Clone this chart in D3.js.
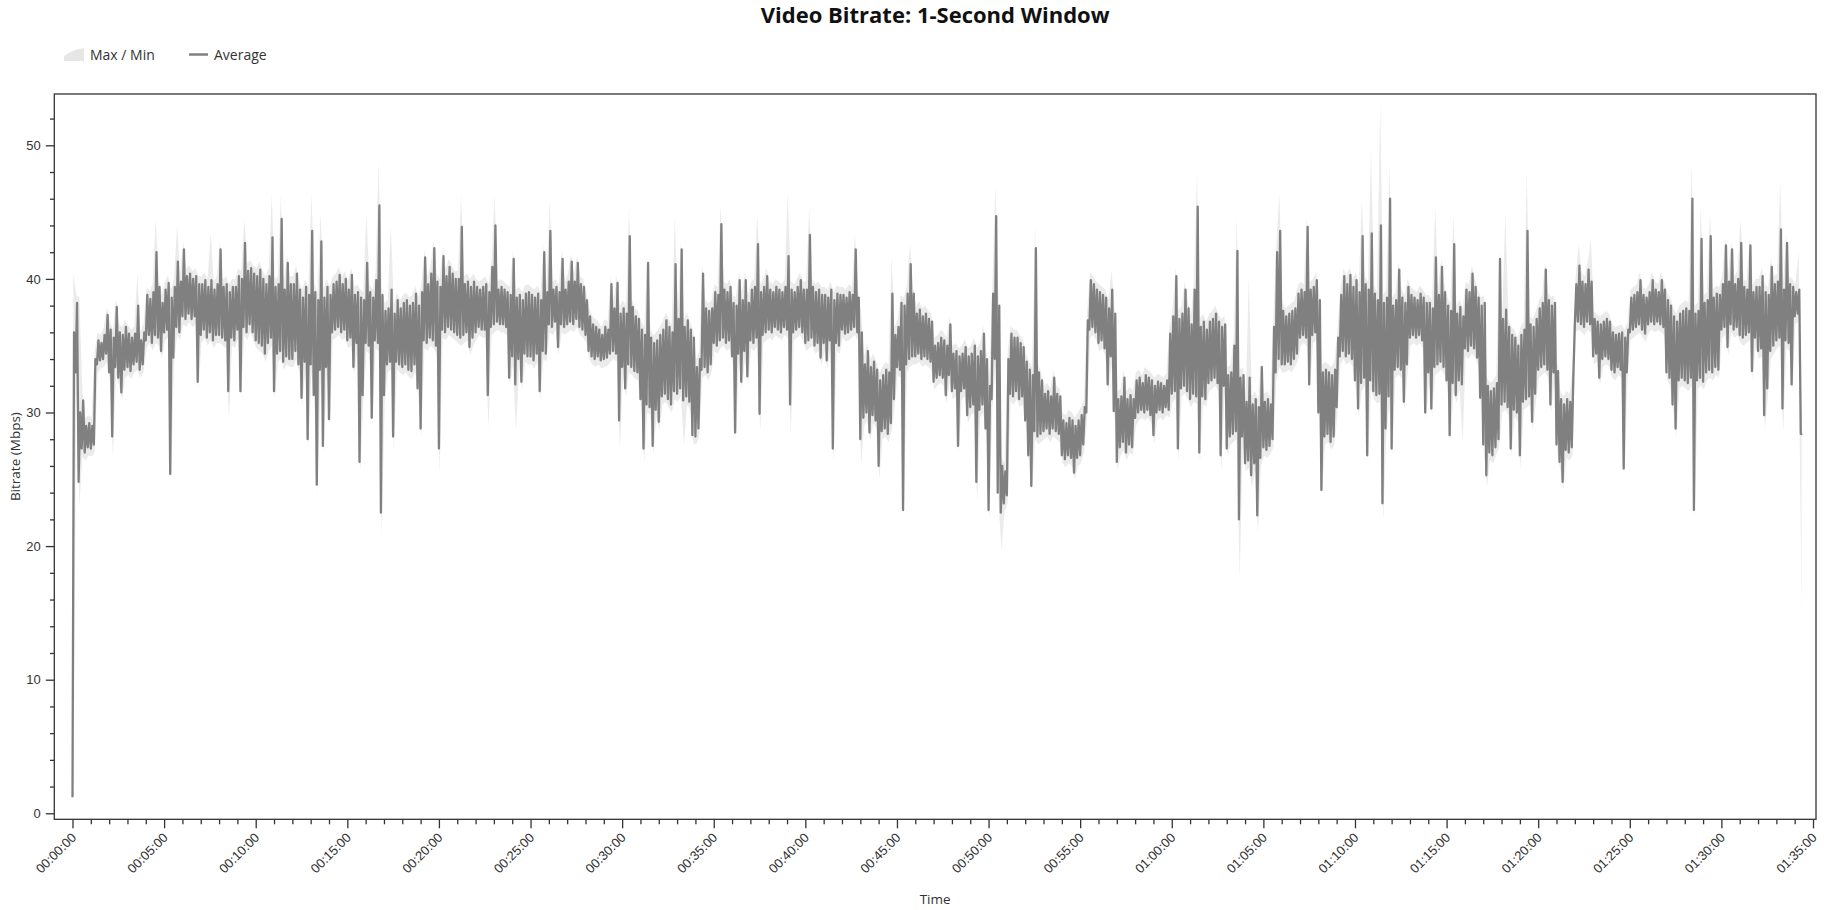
<!DOCTYPE html>
<html><head><meta charset="utf-8">
<script src="https://cdn.jsdelivr.net/npm/d3@7/dist/d3.min.js"></script>
<style>
html,body{margin:0;padding:0;background:#fff;}
svg{display:block;font-family:"Segoe UI","Open Sans","Noto Sans",sans-serif;}
</style></head>
<body><svg id="chart" width="1842" height="910"></svg>
<script>
// ---- data: 10-second buckets (Mbps). For each bucket: highest / lowest 1-s average, and max / min ----
const BUCKET_SECONDS = 10;
const avgHigh = [
36.0,38.2,30.0,30.9,29.0,29.2, 29.0,34.0,35.4,35.2,35.8,37.3, 36.2,35.6,37.9,36.0,35.8,36.4, 35.9,35.6,35.9,38.0,35.4,36.0,
38.8,38.5,39.0,42.0,39.4,38.2, 39.2,39.7,38.6,39.4,41.3,39.8, 42.2,40.2,40.4,40.0,40.2,39.6, 39.6,39.9,39.4,39.9,39.2,39.6,
42.2,39.4,39.6,39.0,39.4,39.4, 40.2,40.0,42.7,40.6,40.8,40.4, 40.2,40.7,40.0,39.6,40.2,43.1, 39.4,39.6,44.5,39.2,41.2,39.6,
39.6,40.4,39.2,38.6,39.4,38.8, 43.6,39.0,38.4,42.8,38.6,39.4, 38.8,39.6,39.8,40.3,39.6,40.0, 39.2,40.3,38.8,39.0,38.6,38.4,
41.2,39.0,38.6,39.9,45.5,38.8, 37.6,37.8,39.2,37.4,38.4,37.8, 38.2,38.4,38.0,38.2,38.9,38.0, 39.0,41.6,39.6,40.4,42.3,39.8,
39.4,41.7,40.2,40.9,40.4,40.0, 40.0,43.9,39.6,39.8,39.4,39.8, 39.4,39.2,39.4,39.6,39.0,40.9, 44.0,39.2,39.4,39.2,39.0,38.8,
41.5,38.6,38.8,38.4,38.9,39.0, 38.8,38.6,38.9,38.4,42.0,39.0, 43.6,39.2,39.4,39.0,41.5,39.2, 39.8,41.3,39.8,41.2,39.6,39.4,
38.4,37.2,36.6,36.4,36.2,35.8, 36.4,36.2,39.6,37.8,39.7,37.4, 37.8,37.4,43.2,37.9,37.2,37.0, 36.2,35.8,41.2,35.6,35.2,35.4,
35.8,36.2,36.9,36.4,36.0,41.1, 37.0,42.2,36.4,36.9,36.2,35.6, 33.4,34.0,40.4,37.8,37.6,37.8, 39.0,38.8,44.1,39.2,39.0,39.4,
38.2,38.0,39.9,38.4,39.9,38.2, 39.2,39.4,42.6,39.0,39.4,40.2, 39.2,39.0,39.4,39.2,39.0,39.4, 41.7,39.2,39.0,39.4,39.9,39.2,
39.2,43.3,39.4,39.0,39.2,38.8, 38.8,38.6,39.2,38.4,38.9,38.8, 38.8,38.6,39.0,38.8,42.2,38.6, 36.0,33.6,34.6,33.4,33.8,33.2,
32.4,32.8,33.2,33.0,38.9,35.8, 36.4,38.2,38.0,38.9,41.1,38.9, 37.4,37.7,37.2,37.4,37.0,36.8, 35.0,35.2,35.6,35.4,35.0,36.6,
34.4,34.6,34.2,34.4,34.9,34.2, 34.4,35.0,34.2,34.6,35.9,34.0, 32.0,38.9,44.7,38.0,26.0,25.6, 34.0,35.9,35.6,35.6,35.2,34.9,
33.8,33.2,32.8,42.3,33.0,32.4, 31.4,31.6,31.2,32.6,31.4,31.2, 29.4,29.2,29.6,29.4,29.0,29.4, 29.8,30.4,36.9,39.9,39.6,39.2,
39.0,38.8,38.6,37.8,39.2,37.4, 31.0,31.2,32.6,31.0,31.3,31.0, 32.4,32.6,32.2,32.8,32.6,32.4, 32.0,32.3,32.2,32.0,32.4,35.9,
37.2,40.2,37.0,37.4,39.2,37.8, 36.6,39.2,45.4,36.4,36.8,36.2, 36.8,37.0,37.4,36.8,36.4,36.6, 32.8,33.0,35.0,42.1,32.6,32.8,
30.8,32.6,30.6,31.0,30.4,33.4, 30.8,31.0,30.6,36.4,42.0,43.6, 37.6,37.2,37.4,37.6,37.8,38.9, 39.2,39.0,43.9,39.2,39.4,39.9,
38.4,33.0,33.2,33.0,32.8,33.2, 35.6,38.8,40.2,39.6,40.3,39.4, 39.9,39.0,43.2,39.6,39.2,43.4, 38.9,38.4,44.0,38.2,38.6,46.0,
38.0,38.4,40.7,38.6,38.2,39.4, 38.8,38.6,38.4,38.9,38.6,38.2, 38.2,37.8,41.6,38.8,40.9,39.0, 38.0,37.6,42.6,37.4,37.9,37.2,
39.2,39.0,40.4,39.4,38.6,38.0, 38.2,32.0,31.6,31.8,32.2,41.5, 37.0,37.7,36.4,35.8,35.6,35.0, 35.8,36.2,43.6,36.6,36.4,37.0,
37.8,38.2,40.7,38.4,38.0,38.2, 33.1,31.0,30.6,31.0,30.8,32.6, 39.6,41.0,39.8,39.6,40.7,39.8, 37.0,36.8,36.6,36.8,37.0,36.8,
36.0,35.8,35.9,36.0,35.6,36.2, 38.6,38.8,39.0,39.9,38.8,38.6, 39.0,39.9,39.2,39.0,39.9,39.2, 38.4,38.0,37.2,36.8,37.4,37.6,
37.8,37.6,46.0,37.4,37.6,43.0, 38.2,38.4,43.2,38.6,38.9,38.8, 39.6,42.5,39.8,42.2,39.6,40.0, 42.7,39.4,39.2,42.5,39.0,39.4,
39.4,40.2,39.0,38.8,40.9,39.6, 39.8,43.7,39.2,42.7,39.6,39.4, 39.0,39.2,28.4
];
const avgLow = [
1.2,33.0,24.8,27.3,27.0,27.4, 27.3,27.6,33.6,33.9,34.0,34.4, 33.0,28.2,33.4,32.6,31.5,33.2, 33.4,33.1,33.6,33.8,33.2,33.6,
35.4,35.8,35.2,35.8,35.6,34.6, 36.0,36.2,25.4,34.1,36.4,36.0, 37.2,37.0,37.4,37.0,37.2,32.3, 35.8,36.2,35.6,36.0,35.4,35.8,
35.8,35.6,35.4,31.6,35.6,35.4, 36.2,31.6,36.4,36.0,36.6,36.0, 35.4,35.2,35.0,34.4,35.2,35.6, 31.6,34.4,34.6,33.8,34.2,34.0,
34.0,34.6,33.6,31.1,33.8,28.0, 33.6,31.3,24.6,33.2,27.5,33.4, 29.5,36.0,36.2,36.4,36.0,36.2, 35.4,35.6,33.4,35.2,26.3,31.3,
35.2,35.0,29.6,35.4,35.2,22.5, 31.3,33.6,33.8,28.2,33.8,33.6, 33.4,33.6,33.2,33.1,33.6,31.8, 28.8,35.4,35.2,35.6,35.4,35.0,
27.3,36.2,36.0,36.4,36.2,36.0, 35.8,35.6,35.8,36.0,34.9,35.6, 36.0,36.4,36.2,36.2,31.3,36.4, 36.6,36.8,36.6,36.6,36.4,32.6,
34.2,32.1,34.0,32.3,34.4,34.2, 34.2,33.9,34.4,31.6,34.6,34.4, 36.6,36.4,36.8,34.9,36.6,36.4, 36.6,36.8,36.6,37.0,36.4,36.2,
35.8,34.6,34.2,34.0,34.2,33.9, 34.0,34.1,34.4,34.6,34.4,29.4, 33.4,31.8,33.6,33.4,33.1,33.0, 31.0,27.3,30.6,30.4,27.5,30.2,
29.3,31.2,31.4,31.0,30.6,31.6, 31.4,31.8,30.9,31.2,30.8,28.3, 28.2,28.8,33.2,33.4,33.0,33.6, 35.2,35.0,35.4,35.6,35.2,35.4,
34.2,28.5,34.4,32.3,34.6,32.7, 35.4,35.2,35.6,29.9,35.8,36.0, 36.2,36.0,36.4,36.2,36.0,36.4, 36.2,30.6,36.0,36.2,36.4,36.0,
35.2,35.4,35.6,35.0,35.2,34.1, 35.2,33.9,35.4,27.3,35.2,35.0, 36.2,35.9,36.0,36.2,36.4,36.0, 28.0,29.6,30.0,28.5,29.8,29.4,
26.0,28.6,28.8,28.4,29.2,31.0, 33.4,33.2,22.7,33.6,34.0,34.2, 34.2,34.4,34.0,34.2,34.0,33.8, 32.3,32.6,32.8,32.6,31.3,32.8,
31.6,31.8,27.5,31.6,31.8,29.8, 30.4,30.6,24.8,30.2,30.6,28.8, 22.7,31.0,34.0,24.0,22.5,23.2, 23.8,31.4,31.2,31.6,31.0,31.2,
29.4,26.8,24.5,28.6,28.2,28.4, 28.6,28.8,28.4,28.8,28.6,28.4, 26.8,26.5,26.8,26.6,25.5,26.6, 26.8,27.6,30.0,36.2,36.4,36.0,
35.2,35.4,34.8,32.1,34.2,30.1, 26.3,27.4,27.8,27.0,27.6,27.4, 29.6,30.0,30.2,30.0,30.2,29.8, 28.3,30.0,30.2,30.0,30.4,30.2,
31.4,31.6,27.3,31.8,32.0,31.6, 31.0,31.4,31.2,27.0,31.2,31.0, 32.2,32.4,32.6,32.2,26.8,32.0, 27.3,28.2,28.4,28.6,22.0,28.2,
26.2,26.4,25.3,26.2,22.3,26.6, 27.4,27.2,27.5,28.0,33.0,34.0, 33.6,33.6,33.8,33.6,34.0,34.4, 35.6,35.8,35.6,32.1,35.8,36.0,
30.0,24.2,28.2,28.4,27.8,28.2, 30.4,34.2,34.6,34.2,34.4,34.0, 32.4,30.3,32.2,32.6,26.8,32.4, 31.6,31.3,31.4,23.2,28.8,31.2,
27.3,33.2,33.4,33.2,30.8,33.6, 35.6,35.8,35.6,35.8,35.4,30.0, 33.0,30.3,33.4,33.6,33.8,33.4, 32.4,28.3,32.2,31.3,32.4,32.1,
34.8,34.6,35.0,34.8,34.1,31.1, 27.6,25.3,27.0,26.8,27.4,28.0, 30.6,30.8,30.4,27.3,30.2,30.0, 26.8,30.8,31.0,31.2,29.3,31.4,
33.2,33.4,33.6,33.2,30.6,33.0, 27.6,26.3,24.8,27.2,27.0,27.4, 36.6,36.8,36.6,36.4,36.8,36.6, 34.2,34.4,32.6,34.0,34.2,34.0,
33.2,33.0,33.4,33.2,25.8,33.0, 36.0,36.2,36.4,36.6,36.2,35.9, 36.6,36.8,36.6,36.8,36.6,36.4, 33.0,32.6,30.6,28.8,32.4,32.6,
32.4,32.2,32.6,22.7,32.4,32.6, 32.3,33.0,33.2,33.0,33.4,33.2, 36.2,36.4,34.9,36.6,36.2,36.4, 35.8,35.6,35.8,36.0,33.1,35.6,
34.6,34.8,29.8,31.8,34.6,35.0, 35.4,35.6,30.3,35.4,35.2,32.1, 37.2,37.4,28.4
];
const maxSeries = [
40.4,38.8,38.6,31.5,29.6,29.8, 29.6,34.6,36.0,35.8,36.4,37.9, 36.8,36.2,38.5,36.6,36.4,37.0, 36.5,36.2,36.5,40.4,36.0,36.6,
39.4,39.1,39.6,44.5,40.0,38.8, 39.8,40.3,39.2,40.0,44.0,40.4, 42.8,40.8,41.0,40.6,40.8,40.2, 40.2,40.5,40.0,43.5,39.8,40.2,
42.8,40.0,40.2,39.6,40.0,40.0, 40.8,40.6,44.5,41.2,41.4,41.0, 40.8,41.3,40.6,40.2,40.8,46.3, 40.0,40.2,46.3,39.8,41.8,40.2,
40.2,41.0,39.8,39.2,40.0,39.4, 46.4,39.6,39.0,45.0,39.2,40.0, 39.4,40.2,40.4,40.9,40.2,40.6, 39.8,40.9,39.4,39.6,39.2,39.0,
45.0,39.6,39.2,40.5,48.8,39.4, 38.2,38.4,44.0,38.0,39.0,38.4, 38.8,39.0,38.6,38.8,39.5,38.6, 39.6,42.2,40.2,41.0,42.9,40.4,
40.0,42.3,40.8,41.5,41.0,40.6, 40.6,46.4,40.2,40.4,40.0,40.4, 40.0,39.8,40.0,40.2,39.6,41.5, 46.3,39.8,40.0,39.8,39.6,39.4,
42.1,39.2,39.4,39.0,39.5,39.6, 39.4,39.2,39.5,39.0,42.6,39.6, 45.9,39.8,40.0,39.6,42.1,39.8, 40.4,41.9,40.4,41.8,40.2,40.0,
39.0,37.8,37.2,37.0,36.8,36.4, 37.0,36.8,40.2,38.4,40.3,38.0, 38.4,38.0,45.3,38.5,37.8,37.6, 36.8,36.4,41.8,36.2,35.8,36.0,
36.4,36.8,37.5,37.0,36.6,44.7, 37.6,42.8,37.0,37.5,36.8,36.2, 34.0,34.6,41.0,38.4,38.2,38.4, 39.6,39.4,45.6,39.8,39.6,40.0,
38.8,38.6,40.5,39.0,40.5,38.8, 39.8,40.0,44.9,39.6,40.0,40.8, 39.8,39.6,40.0,39.8,39.6,40.0, 46.5,39.8,39.6,40.0,40.5,39.8,
39.8,45.3,40.0,39.6,39.8,39.4, 39.4,39.2,39.8,39.0,39.5,39.4, 39.4,39.2,39.6,39.4,43.4,39.2, 37.6,34.2,35.2,34.0,34.4,33.8,
33.0,33.4,33.8,33.6,41.7,36.4, 37.0,38.8,38.6,39.5,42.6,39.5, 38.0,38.3,37.8,38.0,37.6,37.4, 35.6,35.8,36.2,36.0,35.6,37.2,
35.0,35.2,34.8,35.0,35.5,34.8, 35.0,35.6,34.8,35.2,36.5,34.6, 32.6,39.5,47.0,38.6,26.6,26.2, 34.6,36.5,36.2,36.2,35.8,35.5,
34.4,33.8,33.4,44.0,33.6,33.0, 32.0,32.2,31.8,33.2,32.0,31.8, 30.0,29.8,30.2,30.0,29.6,30.0, 30.4,31.0,37.5,40.5,40.2,39.8,
39.6,39.4,39.2,38.4,40.7,38.0, 31.6,31.8,33.2,31.6,31.9,31.6, 33.0,33.2,32.8,33.4,33.2,33.0, 32.6,32.9,32.8,32.6,33.0,36.5,
37.8,40.8,37.6,38.0,39.8,38.4, 37.2,39.8,48.0,37.0,37.4,36.8, 37.4,37.6,38.0,37.4,37.0,37.2, 33.4,33.6,35.6,44.6,33.2,33.4,
31.4,40.2,31.2,31.6,31.0,34.0, 31.4,31.6,31.2,37.0,42.6,46.4, 38.2,37.8,38.0,38.2,38.4,39.5, 39.8,39.6,44.8,39.8,40.0,40.5,
39.0,33.6,33.8,33.6,33.4,33.8, 36.2,39.4,40.8,40.2,40.9,40.0, 40.5,39.6,45.9,40.2,39.8,49.6, 39.5,39.0,53.3,38.8,39.2,48.6,
38.6,39.0,41.3,39.2,38.8,40.0, 39.4,39.2,39.0,39.5,39.2,38.8, 38.8,38.4,45.4,39.4,41.5,39.6, 38.6,38.2,44.8,38.0,38.5,37.8,
39.8,39.6,41.0,40.0,39.2,38.6, 38.8,32.6,32.2,32.4,32.8,42.1, 37.6,45.0,37.0,36.4,36.2,35.6, 36.4,36.8,48.1,37.2,37.0,37.6,
38.4,38.8,41.3,39.0,38.6,38.8, 33.7,31.6,31.2,31.6,31.4,33.2, 40.2,42.6,40.4,40.2,41.3,43.0, 37.6,37.4,37.2,37.4,37.6,37.4,
36.6,36.4,36.5,36.6,36.2,36.8, 39.2,39.4,39.6,40.5,39.4,39.2, 39.6,40.5,39.8,39.6,40.5,39.8, 39.0,38.6,37.8,37.4,38.0,38.2,
38.4,38.2,48.7,38.0,38.2,45.4, 38.8,39.0,45.0,39.2,39.5,39.4, 40.2,43.1,40.4,42.8,40.2,40.6, 44.4,40.0,39.8,43.1,39.6,40.0,
40.0,40.8,39.6,39.4,41.5,40.2, 40.4,47.3,39.8,43.3,40.2,40.0, 39.6,42.0,29.0
];
const minSeries = [
0.0,32.4,22.9,26.7,26.4,26.8, 26.7,27.0,33.0,33.3,33.4,33.8, 32.4,26.6,32.8,32.0,30.9,32.6, 32.8,32.5,33.0,33.2,32.6,33.0,
34.8,35.2,34.6,35.2,35.0,34.0, 35.4,35.6,24.6,33.5,35.8,35.4, 36.6,36.4,36.8,36.4,36.6,31.7, 35.2,35.6,35.0,35.4,34.8,35.2,
35.2,35.0,34.8,29.5,35.0,34.8, 35.6,31.0,35.8,35.4,36.0,35.4, 34.8,34.6,34.4,33.8,34.6,35.0, 31.0,33.8,34.0,33.2,33.6,33.4,
33.4,34.0,33.0,30.5,33.2,27.4, 33.0,30.7,23.9,32.6,26.9,32.8, 28.9,35.4,35.6,35.8,35.4,35.6, 34.8,35.0,32.8,34.6,25.5,30.7,
34.6,34.4,29.0,34.8,34.6,20.8, 30.7,33.0,33.2,27.3,33.2,33.0, 32.8,33.0,32.6,32.5,33.0,31.2, 28.2,34.8,34.6,35.0,34.8,34.4,
25.4,35.6,35.4,35.8,35.6,35.4, 35.2,35.0,35.2,35.4,34.3,35.0, 35.4,35.8,35.6,35.6,28.8,35.8, 36.0,36.2,36.0,36.0,35.8,32.0,
33.6,28.6,33.4,31.7,33.8,33.6, 33.6,33.3,33.8,31.0,34.0,33.8, 36.0,35.8,36.2,34.3,36.0,35.8, 36.0,36.2,36.0,36.4,35.8,35.6,
35.2,34.0,33.6,33.4,33.6,33.3, 33.4,33.5,33.8,34.0,33.8,27.2, 32.8,31.2,33.0,32.8,32.5,32.4, 30.4,26.2,30.0,29.8,26.9,29.6,
28.7,30.6,30.8,30.4,30.0,31.0, 30.8,31.2,27.5,30.6,30.2,27.7, 27.6,28.2,32.6,32.8,32.4,33.0, 34.6,34.4,34.8,35.0,34.6,34.8,
33.6,28.0,33.8,31.7,34.0,32.1, 34.8,34.6,35.0,28.5,35.2,35.4, 35.6,35.4,35.8,35.6,35.4,35.8, 35.6,28.3,35.4,35.6,35.8,35.4,
34.6,34.8,35.0,34.4,34.6,33.5, 34.6,33.3,34.8,26.3,34.6,34.4, 35.6,35.3,35.4,35.6,35.8,35.4, 26.0,29.0,29.4,27.9,29.2,28.8,
25.0,28.0,28.2,27.8,28.6,30.4, 32.8,32.6,22.2,33.0,33.4,33.6, 33.6,33.8,33.4,33.6,33.4,33.2, 31.7,32.0,32.2,32.0,30.7,32.2,
31.0,31.2,26.9,31.0,31.2,29.2, 29.8,30.0,23.3,29.6,30.0,28.2, 21.9,30.4,33.4,23.4,19.7,22.6, 23.2,30.8,30.6,31.0,30.4,30.6,
28.8,26.2,24.1,28.0,27.6,27.8, 28.0,28.2,27.8,28.2,28.0,27.8, 26.2,25.9,26.2,26.0,25.0,26.0, 26.2,27.0,29.4,35.6,35.8,35.4,
34.6,34.8,34.2,31.5,33.6,29.5, 25.7,26.8,27.2,26.4,27.0,26.8, 29.0,29.4,29.6,29.4,29.6,29.2, 27.7,29.4,29.6,29.4,29.8,29.6,
30.8,31.0,26.4,31.2,31.4,31.0, 30.4,30.8,30.6,26.3,30.6,30.4, 31.6,31.8,32.0,31.6,25.5,31.4, 26.7,27.6,27.8,28.0,17.6,27.6,
25.6,25.8,24.4,25.6,21.0,26.0, 26.8,26.6,26.9,27.4,32.4,33.4, 33.0,33.0,33.2,33.0,33.4,33.8, 35.0,35.2,35.0,31.5,35.2,35.4,
29.4,24.0,27.6,27.8,27.2,27.6, 29.8,33.6,34.0,33.6,33.8,33.4, 31.8,29.7,31.6,32.0,26.2,31.8, 31.0,30.7,30.8,21.9,28.2,30.6,
26.7,32.6,32.8,32.6,30.2,33.0, 35.0,35.2,35.0,35.2,34.8,29.4, 32.4,29.7,32.8,33.0,33.2,32.8, 31.8,27.7,31.6,30.7,31.8,27.7,
34.2,34.0,34.4,34.2,33.5,30.5, 27.0,24.4,26.4,26.2,26.8,27.4, 30.0,30.2,29.8,26.7,29.6,29.4, 25.8,30.2,30.4,30.6,28.7,30.8,
32.6,32.8,33.0,32.6,30.0,32.4, 27.0,25.7,24.2,26.6,26.4,26.8, 36.0,36.2,36.0,35.8,36.2,36.0, 33.6,33.8,32.0,33.4,33.6,33.4,
32.6,32.4,32.8,32.6,25.2,32.4, 35.4,35.6,35.8,36.0,35.6,35.3, 36.0,36.2,36.0,36.2,36.0,35.8, 32.4,32.0,30.0,28.2,31.8,32.0,
31.8,31.6,32.0,22.0,31.8,32.0, 31.7,32.4,32.6,32.4,32.8,32.6, 35.6,35.8,34.3,36.0,35.6,35.8, 35.2,35.0,35.2,35.4,32.5,35.0,
34.0,34.2,28.8,31.2,34.0,34.4, 34.8,35.0,28.5,34.8,34.6,31.5, 36.6,36.8,14.6
];
const xMajorTickSeconds = d3.range(0, 5701, 300);
const xMinorTickSeconds = d3.range(0, 5701, 60);
const yMajorTicks = [0, 10, 20, 30, 40, 50];
const yMinorTicks = d3.range(0, 53, 2);
const titleText = "Video Bitrate: 1-Second Window";
const legendLabels = ["Max / Min", "Average"];
const xAxisTitle = "Time";
const yAxisTitle = "Bitrate (Mbps)";

// ---- layout ----
const plot = {left: 54.3, top: 94, right: 1816, bottom: 819.3};
const n = Math.min(avgHigh.length, avgLow.length, maxSeries.length, minSeries.length);
const buckets = d3.range(n).map(i => ({t: i * BUCKET_SECONDS, hi: avgHigh[i], lo: avgLow[i], max: maxSeries[i], min: minSeries[i]}));
// each bucket contributes its low then its high 1-s average (min/max decimation of the average line)
const linePts = buckets.flatMap(b => [{t: b.t, v: b.lo}, {t: b.t + BUCKET_SECONDS / 2, v: b.hi}]);

const x = d3.scaleLinear().domain([-59.6, 5709.8]).range([plot.left, plot.right]);
const y = d3.scaleLinear().domain([-0.45, 53.84]).range([plot.bottom, plot.top]);

const svg = d3.select("#chart");
const fmt = s => { const h = Math.floor(s/3600), m = Math.floor((s%3600)/60), sec = s%60;
  const p = v => String(v).padStart(2, "0"); return p(h)+":"+p(m)+":"+p(sec); };

// title
svg.append("text").attr("x", (plot.left+plot.right)/2).attr("y", 23)
  .attr("text-anchor","middle").attr("font-size",22).attr("font-weight","bold").attr("fill","#111").text(titleText);

// legend
const lg = svg.append("g");
lg.append("path").attr("d","M64,61 L64,56 Q72,50 84,48 L84,61 Z").attr("fill","#e6e6e6");
lg.append("text").attr("x",90).attr("y",60).attr("font-size",14).attr("fill","#333").text(legendLabels[0]);
lg.append("line").attr("x1",189).attr("x2",208).attr("y1",54.5).attr("y2",54.5).attr("stroke","#808080").attr("stroke-width",2.5);
lg.append("text").attr("x",214).attr("y",60).attr("font-size",14).attr("fill","#333").text(legendLabels[1]);

// clip
svg.append("clipPath").attr("id","clip").append("rect")
  .attr("x",plot.left).attr("y",plot.top).attr("width",plot.right-plot.left).attr("height",plot.bottom-plot.top);

const g = svg.append("g").attr("clip-path","url(#clip)");
g.append("path").datum(buckets)
  .attr("d", d3.area().x(d => x(d.t + 2.5)).y0(d => y(d.min)).y1(d => y(d.max)))
  .attr("fill","#ebebeb");
g.append("path").datum(linePts)
  .attr("d", d3.line().x(d => x(d.t)).y(d => y(d.v)))
  .attr("fill","none").attr("stroke","#808080").attr("stroke-width",2.3).attr("stroke-linejoin","round");

// frame
svg.append("rect").attr("x",plot.left).attr("y",plot.top).attr("width",plot.right-plot.left).attr("height",plot.bottom-plot.top)
  .attr("fill","none").attr("stroke","#333").attr("stroke-width",1.3);

// y axis
const yAxisMajor = svg.append("g").attr("transform",`translate(${plot.left},0)`)
  .call(d3.axisLeft(y).tickValues(yMajorTicks).tickSize(8.5).tickSizeOuter(0).tickPadding(5).tickFormat(d3.format("d")));
const yAxisMinor = svg.append("g").attr("transform",`translate(${plot.left},0)`)
  .call(d3.axisLeft(y).tickValues(yMinorTicks.filter(v => v % 10 !== 0)).tickSize(4.3).tickSizeOuter(0).tickFormat(""));
[yAxisMajor, yAxisMinor].forEach(a => { a.select(".domain").remove(); a.selectAll("line").attr("stroke","#333").attr("stroke-width",1.3); });
yAxisMajor.selectAll("text").attr("font-size",13).attr("fill","#333").attr("font-family",null);

// x axis
const xAxisMajor = svg.append("g").attr("transform",`translate(0,${plot.bottom})`)
  .call(d3.axisBottom(x).tickValues(xMajorTickSeconds).tickSize(9).tickSizeOuter(0).tickFormat(fmt));
const xAxisMinor = svg.append("g").attr("transform",`translate(0,${plot.bottom})`)
  .call(d3.axisBottom(x).tickValues(xMinorTickSeconds.filter(v => v % 300 !== 0)).tickSize(5).tickSizeOuter(0).tickFormat(""));
[xAxisMajor, xAxisMinor].forEach(a => { a.select(".domain").remove(); a.selectAll("line").attr("stroke","#333").attr("stroke-width",1.3); });
xAxisMajor.selectAll("text").attr("font-size",13).attr("fill","#333").attr("font-family",null)
  .attr("text-anchor","end").attr("y",0).attr("dy",0)
  .attr("transform","translate(4,19) rotate(-45)");

// axis titles
svg.append("text").attr("x",(plot.left+plot.right)/2).attr("y",904).attr("text-anchor","middle")
  .attr("font-size",13.5).attr("fill","#333").text(xAxisTitle);
svg.append("text").attr("transform",`translate(20,${(plot.top+plot.bottom)/2}) rotate(-90)`).attr("text-anchor","middle")
  .attr("font-size",13.5).attr("fill","#333").text(yAxisTitle);
</script>
</body></html>
